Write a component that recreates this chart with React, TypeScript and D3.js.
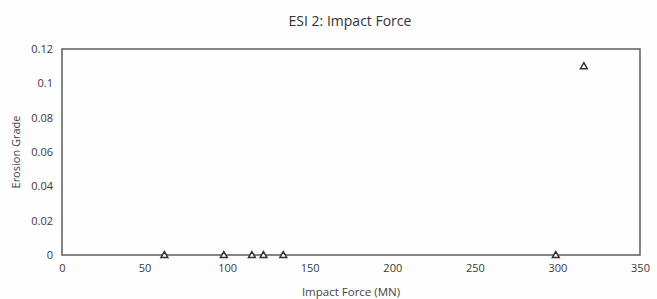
import * as d3 from "d3";
import { useEffect, useRef } from "react";

// данные
const impactForce = [62, 98, 115, 122, 134, 299, 316];
const erosionGrade = [0, 0, 0, 0, 0, 0, 0.11];
const xTicks = [0, 50, 100, 150, 200, 250, 300, 350];
const yTicks = [0, 0.02, 0.04, 0.06, 0.08, 0.1, 0.12];

const title = "ESI 2: Impact Force";
const xTitle = "Impact Force (MN)";
const yTitle = "Erosion Grade";

const App = () => {
  const ref = useRef<SVGSVGElement>(null);
  const width = 657;
  const height = 299;
  const margin = { top: 49, right: 17, bottom: 44, left: 62 };

  useEffect(() => {
    const svg = d3.select(ref.current);
    svg.selectAll("*").remove();
    const font = "'Open Sans', 'Noto Sans', sans-serif";
    const ink = "#444";

    svg.append("rect").attr("width", width).attr("height", height).attr("fill", "#fdfdfd");

    const x = d3.scaleLinear().domain([0, 350]).range([margin.left, width - margin.right]);
    const y = d3.scaleLinear().domain([0, 0.12]).range([height - margin.bottom, margin.top]);

    // рамка
    svg
      .append("rect")
      .attr("x", x(0))
      .attr("y", y(0.12))
      .attr("width", x(350) - x(0))
      .attr("height", y(0) - y(0.12))
      .attr("fill", "none")
      .attr("stroke", "#666")
      .attr("stroke-width", 1.6);

    // оси
    const xAxis = svg
      .append("g")
      .attr("transform", `translate(0, ${y(0)})`)
      .call(d3.axisBottom(x).tickValues(xTicks).tickSize(0).tickPadding(9).tickFormat(d3.format("d")));
    const yAxis = svg
      .append("g")
      .attr("transform", `translate(${x(0)}, 0)`)
      .call(
        d3.axisLeft(y).tickValues(yTicks).tickSize(0).tickPadding(9).tickFormat((d) => String(+(+d).toFixed(2)))
      );
    [xAxis, yAxis].forEach((g) => {
      g.select(".domain").remove();
      g.selectAll("text").attr("font-family", font).attr("font-size", 11).attr("fill", "#3a3a3a");
    });

    // точки
    const tri = d3.symbol().type(d3.symbolTriangle).size(20);
    svg
      .append("g")
      .selectAll("path")
      .data(impactForce)
      .join("path")
      .attr("d", tri)
      .attr("transform", (d, i) => `translate(${x(d)}, ${y(erosionGrade[i]) + 0.5})`)
      .attr("fill", "#fff")
      .attr("stroke", "#333")
      .attr("stroke-width", 1.5);

    // подписи
    svg
      .append("text")
      .attr("x", 350)
      .attr("y", 26)
      .attr("text-anchor", "middle")
      .attr("font-family", font)
      .attr("font-size", 14)
      .attr("fill", "#333")
      .text(title);
    svg
      .append("text")
      .attr("x", 351)
      .attr("y", 296)
      .attr("text-anchor", "middle")
      .attr("font-family", font)
      .attr("font-size", 11.5)
      .attr("fill", ink)
      .text(xTitle);
    svg
      .append("text")
      .attr("transform", `translate(20, ${(y(0) + y(0.12)) / 2}) rotate(-90)`)
      .attr("text-anchor", "middle")
      .attr("font-family", font)
      .attr("font-size", 11)
      .attr("fill", ink)
      .text(yTitle);
  }, []);

  return (
    <svg
      ref={ref}
      width={width}
      height={height}
      style={{ position: "absolute", left: 0, top: 0 }}
    />
  );
};

export default App;
